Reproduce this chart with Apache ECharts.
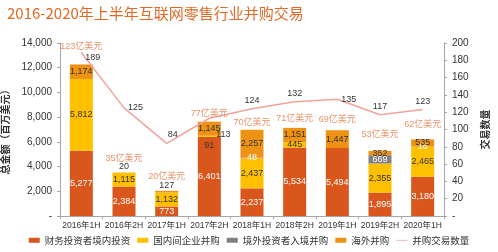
<!DOCTYPE html>
<html lang="zh">
<head>
    <meta charset="utf-8">
    <title>互联网零售行业并购交易</title>
    <script src="https://cdn.jsdelivr.net/npm/echarts@6/dist/echarts.min.js"></script>
    <style>
        body { margin: 0; background: #fff; }
        #main { width: 498px; height: 252px; }
    </style>
</head>
<body>
<div id="main"></div>
<script type="text/javascript">
    // 数据（百万美元 / 笔）
    var periods = ['2016年1H', '2016年2H', '2017年1H', '2017年2H', '2018年1H', '2018年2H', '2019年1H', '2019年2H', '2020年1H'];
    var financial = [5277, 2384, 773, 6401, 2237, 5534, 5494, 1895, 3180];   // 财务投资者境内投资
    var domestic = [5812, 1115, 1132, 91, 2437, 445, 0, 2355, 2465];         // 国内间企业并购
    var inbound = [0, 0, 0, 0, 48, 0, 0, 669, 16];                           // 境外投资者入境并购
    var overseas = [1174, 20, 127, 1145, 2257, 1151, 1447, 352, 535];        // 海外并购
    var dealCount = [189, 125, 84, 113, 124, 132, 135, 117, 123];            // 并购交易数量
    var totalYi = [123, 35, 20, 77, 70, 71, 69, 53, 62];                     // 总额（亿美元）

    // 标签位置（只是样式）
    var totalGap = [13, 9, 10, 4, 3, 5, 6, 12, 10];
    var countLabel = [
        {position: 'right', offset: [0, 5]},
        {position: 'right'},
        {position: 'top', offset: [6, 0]},
        {position: 'bottom', offset: [14, 8]},
        {position: 'top'},
        {position: 'top'},
        {position: 'right'},
        {position: 'top'},
        {position: 'top'}
    ];

    var fmt = function (v) { return v === 0 ? '-' : v.toLocaleString('en-US'); };
    var font = 'Arial, "Noto Sans CJK SC", sans-serif';
    var cjk = '"Noto Sans CJK SC", sans-serif';

    var totals = periods.map(function (p, i) {
        return financial[i] + domestic[i] + inbound[i] + overseas[i];
    });

    var myChart = echarts.init(document.getElementById('main'));
    myChart.setOption({
        backgroundColor: '#ffffff',
        animation: false,
        textStyle: {fontFamily: font},
        title: {
            text: '2016-2020年上半年互联网零售行业并购交易',
            left: 2,
            top: 1,
            textStyle: {color: '#E06A28', fontSize: 15, fontWeight: 'normal', fontFamily: cjk}
        },
        grid: {left: 60, right: 54, top: 43, bottom: 36, outerBoundsMode: 'none', containLabel: false},
        legend: {
            bottom: 2,
            left: 'center',
            itemWidth: 11,
            itemHeight: 5,
            itemGap: 7,
            textStyle: {fontSize: 9.5, color: '#333', fontFamily: cjk},
            data: [
                {name: '财务投资者境内投资', icon: 'rect'},
                {name: '国内间企业并购', icon: 'rect'},
                {name: '境外投资者入境并购', icon: 'rect'},
                {name: '海外并购', icon: 'rect'},
                {name: '并购交易数量', icon: 'path://M0,0H20V1.4H0Z'}
            ]
        },
        xAxis: {
            type: 'category',
            data: periods,
            axisLine: {lineStyle: {color: '#A6A6A6'}},
            axisTick: {show: true, lineStyle: {color: '#A6A6A6'}, length: 3},
            axisLabel: {color: '#333', fontSize: 8.5, margin: 5, interval: 0}
        },
        yAxis: [{
            type: 'value',
            min: 0,
            max: 14000,
            interval: 2000,
            name: '总金额（百万美元）',
            nameLocation: 'middle',
            nameRotate: 90,
            nameGap: 50,
            nameTextStyle: {color: '#333', fontSize: 10, fontWeight: 'bold', fontFamily: cjk},
            axisLine: {show: true, lineStyle: {color: '#A6A6A6'}},
            axisTick: {show: true, length: 3, lineStyle: {color: '#A6A6A6'}},
            splitLine: {show: false},
            axisLabel: {color: '#333', fontSize: 10, margin: 8, formatter: fmt}
        }, {
            type: 'value',
            min: 0,
            max: 200,
            interval: 20,
            name: '交易数量',
            nameLocation: 'middle',
            nameRotate: 90,
            nameGap: 36,
            nameTextStyle: {color: '#333', fontSize: 10, fontWeight: 'bold', fontFamily: cjk},
            axisLine: {show: true, lineStyle: {color: '#A6A6A6'}},
            axisTick: {show: true, length: 3, lineStyle: {color: '#A6A6A6'}},
            splitLine: {show: false},
            axisLabel: {color: '#333', fontSize: 10, margin: 8, formatter: fmt}
        }],
        series: [
            {
                name: '财务投资者境内投资',
                type: 'bar',
                stack: 'total',
                barWidth: 23,
                itemStyle: {color: '#D9561C'},
                label: {show: true, position: 'inside', color: '#fff', fontSize: 9, formatter: function (p) { return fmt(p.value); }},
                data: financial
            },
            {
                name: '国内间企业并购',
                type: 'bar',
                stack: 'total',
                itemStyle: {color: '#FFC000'},
                data: domestic.map(function (v) {
                    return {
                        value: v,
                        label: {
                            show: v > 0,
                            position: v < 200 ? 'bottom' : 'inside',
                            distance: 4,
                            color: '#333',
                            fontSize: 9,
                            formatter: function (p) { return fmt(p.value); }
                        }
                    };
                })
            },
            {
                name: '境外投资者入境并购',
                type: 'bar',
                stack: 'total',
                itemStyle: {color: '#808080'},
                data: inbound.map(function (v) {
                    return {
                        value: v,
                        label: {show: v > 0, position: 'inside', color: '#fff', fontSize: 9, formatter: function (p) { return fmt(p.value); }}
                    };
                })
            },
            {
                name: '海外并购',
                type: 'bar',
                stack: 'total',
                itemStyle: {color: '#EE9214'},
                data: overseas.map(function (v) {
                    return {
                        value: v,
                        label: {
                            show: true,
                            position: v < 200 ? 'top' : 'inside',
                            distance: 1,
                            color: '#333',
                            fontSize: 9,
                            formatter: function (p) { return fmt(p.value); }
                        }
                    };
                })
            },
            {
                name: '总额',
                type: 'scatter',
                symbolSize: 0,
                silent: true,
                z: 5,
                data: totals.map(function (t, i) {
                    return {
                        value: t,
                        label: {
                            show: true,
                            position: 'top',
                            distance: totalGap[i],
                            color: '#E5743E',
                            fontSize: 9,
                            formatter: totalYi[i] + '亿美元'
                        }
                    };
                })
            },
            {
                name: '并购交易数量',
                type: 'line',
                yAxisIndex: 1,
                symbol: 'circle',
                symbolSize: 0,
                showSymbol: true,
                z: 4,
                lineStyle: {color: '#F2A39C', width: 1.5},
                itemStyle: {color: '#F2A39C'},
                data: dealCount.map(function (v, i) {
                    return {
                        value: v,
                        label: Object.assign({show: true, color: '#333', fontSize: 9, distance: 4}, countLabel[i])
                    };
                })
            }
        ]
    });
</script>
</body>
</html>
